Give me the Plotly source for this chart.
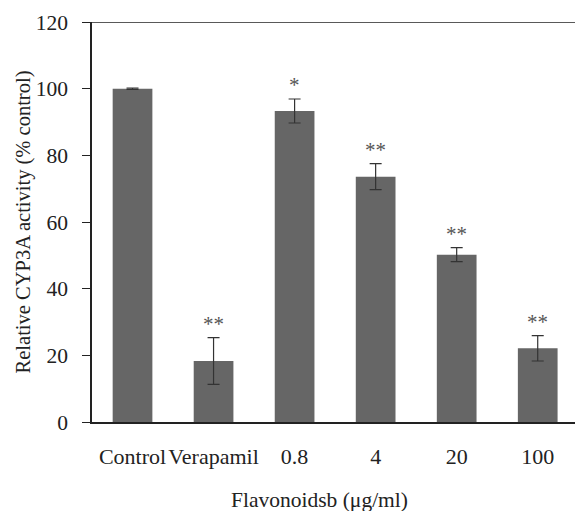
import plotly.graph_objects as go

categories = ["Control", "Verapamil", "0.8", "4", "20", "100"]
values = [100.0, 18.3, 93.3, 73.6, 50.2, 22.1]
errors = [0.2, 7.0, 3.6, 3.9, 2.1, 3.8]
stars = ["", "**", "*", "**", "**", "**"]
y_ticks = [0, 20, 40, 60, 80, 100, 120]

FONT = "Liberation Serif"

fig = go.Figure()
fig.add_trace(go.Bar(
    x=categories, y=values,
    marker=dict(color="#666666", line=dict(width=0)),
    error_y=dict(type="data", array=errors, visible=True,
                 color="#333333", thickness=1.2, width=6),
    width=0.49,
))

for i, (v, e, s) in enumerate(zip(values, errors, stars)):
    if s:
        fig.add_annotation(x=i, y=v + e, text=s, showarrow=False,
                           yanchor="bottom", yshift=0,
                           font=dict(family=FONT, size=21, color="#555555"))

fig.add_shape(type="line", xref="paper", yref="y", x0=0, x1=1, y0=120, y1=120,
              line=dict(color="#222222", width=1.5))

fig.add_annotation(xref="paper", yref="paper", x=0.472, y=0, yshift=-78,
                   yanchor="middle", showarrow=False, text="Flavonoidsb (μg/ml)",
                   font=dict(family=FONT, size=21.5, color="#222222"))

fig.update_layout(
    width=575, height=511,
    margin=dict(l=92, r=0, t=22, b=89),
    plot_bgcolor="white", paper_bgcolor="white",
    showlegend=False,
    font=dict(family=FONT, size=21, color="#222222"),
    xaxis=dict(type="category", range=[-0.5, 5.46], showline=True, linecolor="#222222",
               linewidth=1.5, ticks="", showgrid=False, zeroline=False,
               tickfont=dict(family=FONT, size=22, color="#222222"),
               ticklabelstandoff=14),
    yaxis=dict(range=[0, 120], tickvals=y_ticks, showline=True, linecolor="#222222",
               linewidth=1.5, ticks="outside", ticklen=8, tickcolor="#222222",
               showgrid=False, zeroline=False,
               tickfont=dict(family=FONT, size=21.5, color="#222222"),
               ticklabelstandoff=10,
               title=dict(text="Relative CYP3A activity (% control)", standoff=0,
                          font=dict(family=FONT, size=20.5, color="#222222"))),
)

fig.write_html("out.html")
